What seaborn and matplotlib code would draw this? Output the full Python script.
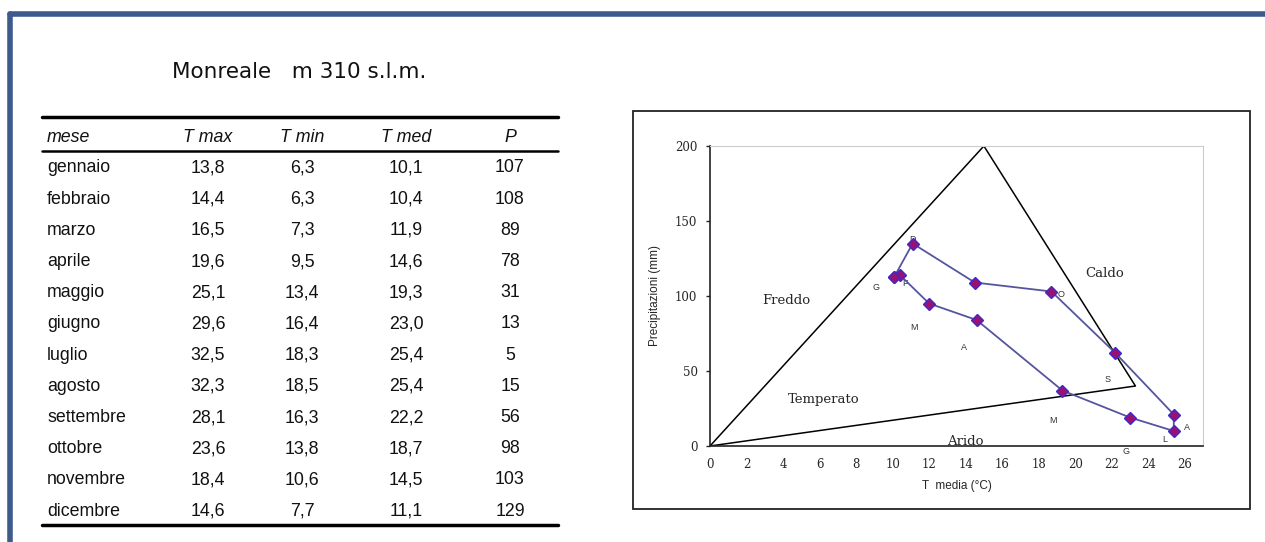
import pandas as pd
import numpy as np
import matplotlib
matplotlib.use("Agg")
import matplotlib.pyplot as plt
import matplotlib.patches as patches
from matplotlib.lines import Line2D
import seaborn as sns

# Tabella (Monreale)
mesi = ["gennaio", "febbraio", "marzo", "aprile", "maggio", "giugno",
        "luglio", "agosto", "settembre", "ottobre", "novembre", "dicembre"]
t_max = ["13,8", "14,4", "16,5", "19,6", "25,1", "29,6", "32,5", "32,3", "28,1", "23,6", "18,4", "14,6"]
t_min = ["6,3", "6,3", "7,3", "9,5", "13,4", "16,4", "18,3", "18,5", "16,3", "13,8", "10,6", "7,7"]
t_med = ["10,1", "10,4", "11,9", "14,6", "19,3", "23,0", "25,4", "25,4", "22,2", "18,7", "14,5", "11,1"]
prec = ["107", "108", "89", "78", "31", "13", "5", "15", "56", "98", "103", "129"]
intestazioni = ["mese", "T max", "T min", "T med", "P"]

# Punti del climogramma
iniziali = ["G", "F", "M", "A", "M", "G", "L", "A", "S", "O", "N", "D"]
x_tmed = [10.1, 10.4, 12.0, 14.6, 19.3, 23.0, 25.4, 25.4, 22.2, 18.7, 14.5, 11.1]
y_prec = [113, 114, 95, 84, 37, 19, 10, 21, 62, 103, 109, 135]

# Triangolo delle zone climatiche
tri_x = [0, 15, 23.3, 0]
tri_y = [0, 200, 40, 0]
zone = ["Freddo", "Caldo", "Temperato", "Arido"]
zone_x = [4.2, 21.6, 6.2, 14.0]
zone_y = [97, 115, 31, 3]

sns.set_style("white")
plt.rcParams['font.family'] = ['DejaVu Sans']

fig = plt.figure(figsize=(12.65, 5.42), dpi=100)

# cornice blu
blu = '#3c5b8c'
fig.add_artist(Line2D([0.008, 1.0], [0.975, 0.975], color=blu, lw=4, solid_capstyle='round'))
fig.add_artist(Line2D([0.008, 0.008], [0.975, 0.0], color=blu, lw=4, solid_capstyle='round'))

# ---- Tabella ----
fig.text(172 / 1265, 1 - 72 / 542, "Monreale   m 310 s.l.m.", fontsize=15.5,
         family='DejaVu Sans', va='center', ha='left', color='#111111')

def fy(py):
    return 1 - py / 542

def fx(px):
    return px / 1265

fig.add_artist(Line2D([fx(42), fx(558)], [fy(117), fy(117)], color='black', lw=2.5))
fig.add_artist(Line2D([fx(42), fx(558)], [fy(151), fy(151)], color='black', lw=1.8))
fig.add_artist(Line2D([fx(42), fx(558)], [fy(525), fy(525)], color='black', lw=2.5))

col_x = [47, 208, 302, 406, 510]
for i, h in enumerate(intestazioni):
    fig.text(fx(col_x[i]), fy(137), h, fontsize=12.8, style='italic', color='#111111',
             family='Liberation Sans', ha='left' if i == 0 else 'center', va='center')

for r in range(len(mesi)):
    yy = fy(168 + r * 31.2)
    fig.text(fx(col_x[0]), yy, mesi[r], fontsize=12.8, family='Liberation Sans',
             ha='left', va='center', color='#111111')
    for j, col in enumerate([t_max, t_min, t_med, prec]):
        fig.text(fx(col_x[j + 1]), yy, col[r], fontsize=12.8, family='Liberation Sans',
                 ha='center', va='center', color='#111111')

# ---- Riquadro grafico ----
fig.add_artist(patches.Rectangle((fx(633), fy(509)), fx(1250) - fx(633), fy(111) - fy(509),
                                 transform=fig.transFigure, fill=False, edgecolor='#222222', lw=1.3))

ax = fig.add_axes([fx(710), fy(446), fx(1203) - fx(710), fy(146) - fy(446)])

ax.plot(tri_x, tri_y, color='black', lw=1.1, zorder=2)

# percorso chiuso: si torna a gennaio
df = pd.DataFrame({"T": x_tmed + x_tmed[:1], "P": y_prec + y_prec[:1]})
sns.lineplot(data=df, x="T", y="P", sort=False, estimator=None, ax=ax, color='#55559f', lw=1.3,
             marker='D', markersize=6.5, markerfacecolor='#9b1070', markeredgecolor='#3a2bd0',
             markeredgewidth=1.0, zorder=4)

offs = [(-1.0, -7), (0.3, -6), (-0.85, -16), (-0.7, -18), (-0.5, -20), (-0.2, -23),
        (-0.5, -6), (0.7, -9), (-0.45, -18), (0.5, -2), (0.0, 0), (0.0, 2.5)]
for lab, xv, yv, (dx, dy) in zip(iniziali, x_tmed, y_prec, offs):
    ax.text(xv + dx, yv + dy, lab, fontsize=6.5, family='Liberation Sans', color='#333333',
            ha='center', va='center', zorder=3, clip_on=False)

for lab, xv, yv in zip(zone, zone_x, zone_y):
    ax.text(xv, yv, lab, fontsize=9.5, family='DejaVu Serif', ha='center', va='center', zorder=3)

ax.set_xlim(0, 27)
ax.set_ylim(0, 200)
ax.set_xticks(np.arange(0, 27, 2))
ax.set_yticks([0, 50, 100, 150, 200])
ax.tick_params(axis='x', direction='in', length=4, width=1, labelsize=8.5, pad=9)
ax.tick_params(axis='y', direction='out', length=3, width=1, labelsize=8.5, pad=6, left=True)
for t in ax.get_xticklabels() + ax.get_yticklabels():
    t.set_family('DejaVu Serif')
ax.spines['left'].set_color('#222222')
ax.spines['bottom'].set_color('#222222')
ax.spines['left'].set_linewidth(1.2)
ax.spines['bottom'].set_linewidth(1.2)
ax.spines['top'].set_color('#cccccc')
ax.spines['right'].set_color('#cccccc')
ax.set_xlabel("T  media (°C)", fontsize=8.5, family='Liberation Sans', labelpad=6)
ax.set_ylabel("Precipitazioni (mm)", fontsize=8.5, family='Liberation Sans', labelpad=10)

fig.savefig("out.png", dpi=100)
